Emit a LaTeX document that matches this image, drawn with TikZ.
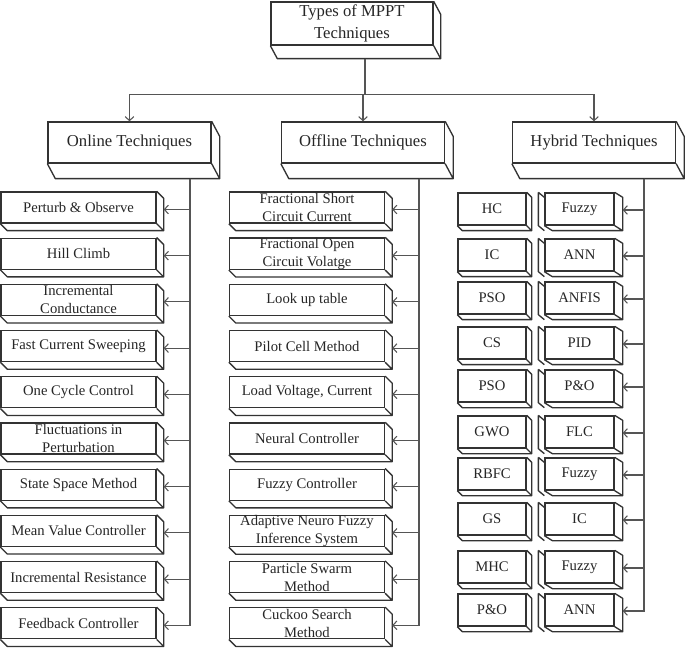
\documentclass[tikz,border=0pt]{standalone}
\usepackage{fontspec}
\setmainfont{Liberation Serif}
\usetikzlibrary{arrows.meta}

\definecolor{boxline}{HTML}{333333}
\definecolor{lineclr}{HTML}{555555}

\tikzset{every picture/.style={line width=0.75pt}}
\tikzset{
  cuboid/.style 2 args={draw=boxline, fill=white, line width=1pt, inner sep=0pt, align=center, text=black!85,
    append after command={\pgfextra{\let\bx\tikzlastnode
      \draw[boxline, line width=1pt, line join=round] (\bx.north east) -- ++(#1,#2) -- ([shift={(#1,#2)}]\bx.south east) -- (\bx.south east)
        (\bx.south west) -- ++(#1,#2) -- ([shift={(#1,#2)}]\bx.south east);}}},
  titlebox/.style={cuboid={7}{13}, minimum width=121.5pt, minimum height=32.25pt, font=\fontsize{12.5}{16.5}\selectfont},
  catbox/.style={cuboid={8}{15}, minimum width=122.25pt, minimum height=30.75pt, font=\fontsize{12.5}{15}\selectfont},
  leafbox/.style={cuboid={7}{7}, minimum width=116.25pt, minimum height=23.25pt, font=\fontsize{11}{13.5}\selectfont},
  pairbox/.style={cuboid={5}{5}, minimum width=51pt, minimum height=24pt, font=\fontsize{11}{13.5}\selectfont},
  pairright/.style={cuboid={8}{5}, minimum width=51.75pt, minimum height=24pt, font=\fontsize{11}{13.5}\selectfont,
    append after command={\pgfextra{\let\bx\tikzlastnode
      \draw[boxline, line width=1pt, line join=round] ([shift={(-6,0)}]\bx.north west) -- ([shift={(0,5)}]\bx.north west)
        ([shift={(-6,0)}]\bx.north west) -- ([shift={(-6,0)}]\bx.south west) -- ([shift={(0,5)}]\bx.south west);}}},
  conn/.style={draw=lineclr, line width=0.8pt, -{Straight Barb[length=3pt,width=6.5pt]}},
}

\begin{document}
\begin{tikzpicture}[x=0.75pt,y=0.75pt,yscale=-1,xscale=1]
	\useasboundingbox (0,0) rectangle (685,648);

	% Title and categories
	\node[titlebox] (mppt) at (352,23.5) {Types of MPPT\\Techniques};
	\node[catbox] (online) at (129.5,142.5) {Online Techniques};
	\node[catbox] (offline) at (363,142.5) {Offline Techniques};
	\node[catbox] (hybrid) at (594,142.5) {Hybrid Techniques};

	% Online leaves
	\foreach \t [count=\i from 0] in {Perturb \& Observe, Hill Climb, Incremental\\Conductance, Fast Current Sweeping, One Cycle Control, Fluctuations in\\Perturbation, State Space Method, Mean Value Controller, Incremental Resistance, Feedback Controller}
		\node[leafbox] (on\i) at (78.5,207.5+46.2*\i) {\t};

	% Offline leaves
	\foreach \t [count=\i from 0] in {Fractional Short\\Circuit Current, Fractional Open\\Circuit Volatge, Look up table, Pilot Cell Method, {Load Voltage, Current}, Neural Controller, Fuzzy Controller, Adaptive Neuro Fuzzy\\Inference System, Particle Swarm\\Method, Cuckoo Search\\Method}
		\node[leafbox] (off\i) at (307,207.5+46.2*\i) {\t};

	% Hybrid leaves
	\foreach \a/\b/\y [count=\i from 0] in {HC/Fuzzy/209, IC/ANN/255, PSO/ANFIS/298, CS/PID/343, PSO/P\&O/386, GWO/FLC/432, RBFC/Fuzzy/474, GS/IC/519, MHC/Fuzzy/567, P\&O/ANN/610}{
		\node[pairbox] (hl\i) at (492,\y) {\a};
		\node[pairright] (hr\i) at (579.5,\y) {\b};
	}

	% Connectors
	\coordinate (mpptB) at ([shift={(13,13)}]mppt.south);
	\coordinate (bus) at ([shift={(0,36)}]mpptB);
	\foreach \c in {online,offline,hybrid}
		\draw[conn] (mpptB) -- (bus) -| (\c.north);

	\coordinate (onT) at ([shift={(60.5,15)}]online.south);
	\coordinate (offT) at ([shift={(56,15)}]offline.south);
	\coordinate (hyT) at ([shift={(50,15)}]hybrid.south);
	\foreach \i in {0,...,9}{
		\draw[conn] (onT) |- ([shift={(7,2)}]on\i.east);
		\draw[conn] (offT) |- ([shift={(7,2)}]off\i.east);
		\draw[conn] (hyT) |- ([shift={(8,1)}]hr\i.east);
	}

\end{tikzpicture}
\end{document}
